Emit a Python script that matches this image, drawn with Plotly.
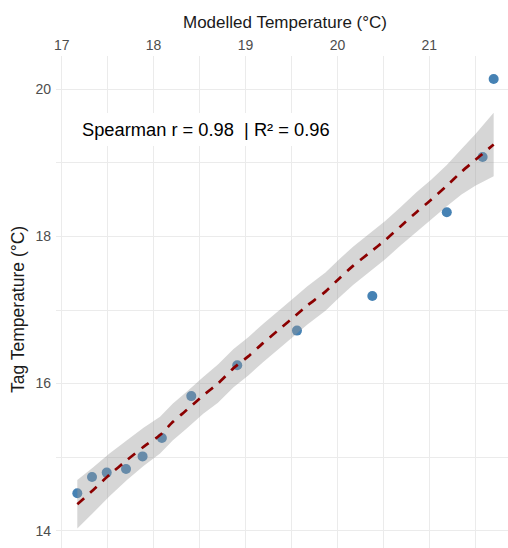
import plotly.graph_objects as go

# Observed pairs: modelled vs tag temperature (°C)
modelled_temp = [17.17, 17.33, 17.49, 17.70, 17.88, 18.09, 18.41, 18.91, 19.56, 20.38, 21.19, 21.58, 21.70]
tag_temp = [14.51, 14.73, 14.79, 14.84, 15.01, 15.26, 15.83, 16.25, 16.72, 17.19, 18.33, 19.08, 20.14]

# Smoothed fit with its confidence band
fit_x = [17.17, 17.34, 17.52, 17.71, 17.89, 18.07, 18.21, 18.36, 18.54, 18.70, 18.87, 19.03, 19.19, 19.38,
         19.54, 19.67, 19.87, 20.02, 20.17, 20.35, 20.52, 20.68, 20.86, 21.02, 21.19, 21.35, 21.50, 21.70]
fit_y = [14.36, 14.55, 14.76, 14.96, 15.14, 15.30, 15.48, 15.64, 15.84, 16.00, 16.21, 16.37, 16.55, 16.75,
         16.92, 17.06, 17.25, 17.43, 17.60, 17.78, 17.95, 18.13, 18.33, 18.50, 18.69, 18.88, 19.04, 19.25]
fit_lo = [14.03, 14.24, 14.47, 14.69, 14.88, 15.05, 15.23, 15.39, 15.59, 15.74, 15.95, 16.11, 16.29, 16.49,
          16.66, 16.80, 16.99, 17.17, 17.34, 17.52, 17.69, 17.87, 18.06, 18.23, 18.41, 18.57, 18.69, 18.82]
fit_hi = [14.69, 14.86, 15.05, 15.23, 15.40, 15.55, 15.73, 15.89, 16.09, 16.26, 16.47, 16.63, 16.81, 17.01,
          17.18, 17.32, 17.51, 17.69, 17.86, 18.04, 18.21, 18.39, 18.60, 18.77, 18.97, 19.19, 19.39, 19.68]

x_ticks = [17, 18, 19, 20, 21]
y_ticks = [14, 16, 18, 20]

stat_label = "Spearman r = 0.98  | R² = 0.96"
x_title = "Modelled Temperature (°C)"
y_title = "Tag Temperature (°C)"

FONT = "Liberation Sans, Arial, sans-serif"
GRID = "#EBEBEB"

fig = go.Figure()

fig.add_trace(go.Scatter(
    x=modelled_temp, y=tag_temp, mode="markers",
    marker=dict(color="#4682B4", size=10, line=dict(width=0)),
    showlegend=False, hoverinfo="skip",
))

fig.add_trace(go.Scatter(
    x=fit_x + fit_x[::-1], y=fit_hi + fit_lo[::-1],
    mode="none", fill="toself", fillcolor="rgba(153,153,153,0.4)",
    showlegend=False, hoverinfo="skip",
))

fig.add_trace(go.Scatter(
    x=fit_x, y=fit_y, mode="lines",
    line=dict(color="#8B0000", width=2.7, dash="9px,8px", shape="spline", smoothing=0.6),
    showlegend=False, hoverinfo="skip",
))

fig.update_layout(
    width=508, height=548,
    margin=dict(l=56, r=0, t=56, b=0),
    paper_bgcolor="white", plot_bgcolor="white",
    font=dict(family=FONT, color="#4D4D4D"),
    xaxis=dict(
        side="top", range=[16.938, 21.856], tickvals=x_ticks, ticks="",
        showline=False, zeroline=False, showgrid=True, gridcolor=GRID, gridwidth=1.1,
        minor=dict(dtick=0.5, tick0=17, showgrid=True, gridcolor=GRID, gridwidth=1),
        tickfont=dict(size=14, color="#4D4D4D", family=FONT), ticklabelstandoff=2,
    ),
    yaxis=dict(
        range=[13.765, 20.453], tickvals=y_ticks, ticks="",
        showline=False, zeroline=False, showgrid=True, gridcolor=GRID, gridwidth=1.1,
        minor=dict(dtick=1, tick0=15, showgrid=True, gridcolor=GRID, gridwidth=1),
        tickfont=dict(size=14, color="#4D4D4D", family=FONT), ticklabelstandoff=4,
    ),
    annotations=[
        dict(text=x_title, xref="paper", yref="paper", x=0.5066, y=1.0671,
             xanchor="center", yanchor="middle", showarrow=False,
             font=dict(size=17, color="#1A1A1A", family=FONT)),
        dict(text=y_title, xref="paper", yref="paper", x=-0.0841, y=0.4858,
             xanchor="center", yanchor="middle", showarrow=False, textangle=-90,
             font=dict(size=17.5, color="#1A1A1A", family=FONT)),
        dict(text=stat_label, xref="paper", yref="paper", x=0.3319, y=0.8516,
             xanchor="center", yanchor="middle", showarrow=False,
             bgcolor="white", borderpad=6, borderwidth=0,
             font=dict(size=18.3, color="black", family=FONT)),
    ],
)

fig.write_html("out.html")
